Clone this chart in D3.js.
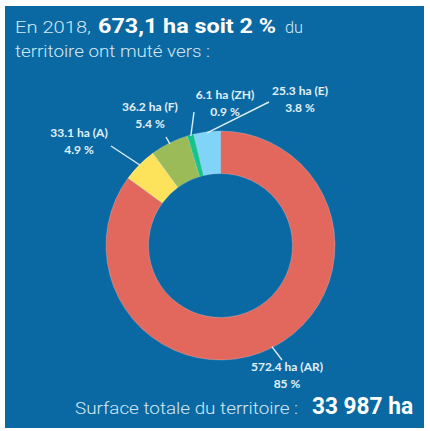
<!DOCTYPE html>
<html lang="fr">
<head>
<meta charset="utf-8">
<script src="https://cdn.jsdelivr.net/npm/d3@7/dist/d3.min.js"></script>
<style>
  html, body { margin: 0; padding: 0; background: #ffffff; }
  svg { display: block; }
</style>
</head>
<body>
<svg id="chart" width="430" height="431"></svg>
<script>
// Land-use change in 2018, by destination category
const categories = ["AR", "A", "F", "ZH", "E"];
const hectares   = [572.4, 33.1, 36.2, 6.1, 25.3];
const percents   = ["85 %", "4.9 %", "5.4 %", "0.9 %", "3.8 %"];
const colors     = ["#E2685E", "#FDE35B", "#9BBB59", "#14C48A", "#7FD4F8"];

const totalMuted = "673,1 ha soit 2 %";
const totalArea  = "33 987 ha";

// Label placement for each slice: label centre, leader-line end
const labelLayout = {
  AR: { x: 287, y: 371, lx: 282, ly: 360 },
  A:  { x: 79,  y: 137, lx: 111, ly: 146 },
  F:  { x: 150, y: 111, lx: 166, ly: 137 },
  ZH: { x: 225, y: 99,  lx: 194, ly: 112 },
  E:  { x: 300, y: 95,  lx: 269, ly: 102 }
};

const svg = d3.select("#chart");
const FONT = "Roboto, 'Liberation Sans', sans-serif";
const LIGHT = "#D4E8F4";

// Blue panel
svg.append("rect")
  .attr("x", 5).attr("y", 6)
  .attr("width", 419).attr("height", 422)
  .attr("fill", "#0A69A2");

// Text helper: fixed start and width, condensed/stretched to fit
function fitText(x, y, len, size, str, opts = {}) {
  return svg.append("text")
    .attr("x", x).attr("y", y)
    .attr("font-family", FONT)
    .attr("font-size", size)
    .attr("font-weight", opts.bold ? "bold" : 300)
    .attr("fill", opts.fill || LIGHT)
    .attr("textLength", len).attr("lengthAdjust", "spacingAndGlyphs")
    .text(str);
}

// Heading
fitText(15, 33, 76, 16.5, "En 2018,");
fitText(98, 33, 178, 20.5, totalMuted, { bold: true, fill: "#ffffff" });
fitText(285, 33, 18, 16.5, "du");
fitText(15, 57, 195, 16.5, "territoire ont muté vers :");

// Donut
const cx = 220.5, cy = 245.5;
const rOuter = 114.5, rInner = 72;

const data = categories.map((c, i) => ({
  cat: c, value: hectares[i], pct: percents[i], color: colors[i]
}));

const pie = d3.pie().sort(null).value(d => d.value)
  .startAngle(0).endAngle(2 * Math.PI);
const arcs = pie(data);

const arc = d3.arc().innerRadius(rInner).outerRadius(rOuter);
const rim = d3.arc().innerRadius(rOuter - 1).outerRadius(rOuter - 1);

const g = svg.append("g").attr("transform", `translate(${cx},${cy})`);

g.selectAll("path.slice")
  .data(arcs)
  .join("path")
  .attr("class", "slice")
  .attr("d", arc)
  .attr("fill", d => d.data.color)
  .attr("stroke", "rgba(255,255,255,0.35)")
  .attr("stroke-width", 0.6);

// Leader lines from slice rim to labels
g.selectAll("line.leader")
  .data(arcs)
  .join("line")
  .attr("class", "leader")
  .attr("x1", d => rim.centroid(d)[0])
  .attr("y1", d => rim.centroid(d)[1])
  .attr("x2", d => labelLayout[d.data.cat].lx - cx)
  .attr("y2", d => labelLayout[d.data.cat].ly - cy)
  .attr("stroke", "#DCEEF8")
  .attr("stroke-width", 1.4);

// Slice labels
const labels = svg.append("g")
  .attr("font-family", "Lato, 'Open Sans', sans-serif")
  .attr("font-weight", "bold")
  .attr("font-size", 12)
  .attr("fill", "#E2F1FA")
  .attr("text-anchor", "middle");

arcs.forEach(d => {
  const p = labelLayout[d.data.cat];
  labels.append("text")
    .attr("x", p.x).attr("y", p.y)
    .text(`${d.data.value.toFixed(1)} ha (${d.data.cat})`);
  labels.append("text")
    .attr("x", p.x).attr("y", p.y + 17)
    .text(d.data.pct);
});

// Footer
fitText(75, 414, 223, 17, "Surface totale du territoire :");
fitText(312, 414, 101, 23, totalArea, { bold: true, fill: "#ffffff" });
</script>
</body>
</html>
